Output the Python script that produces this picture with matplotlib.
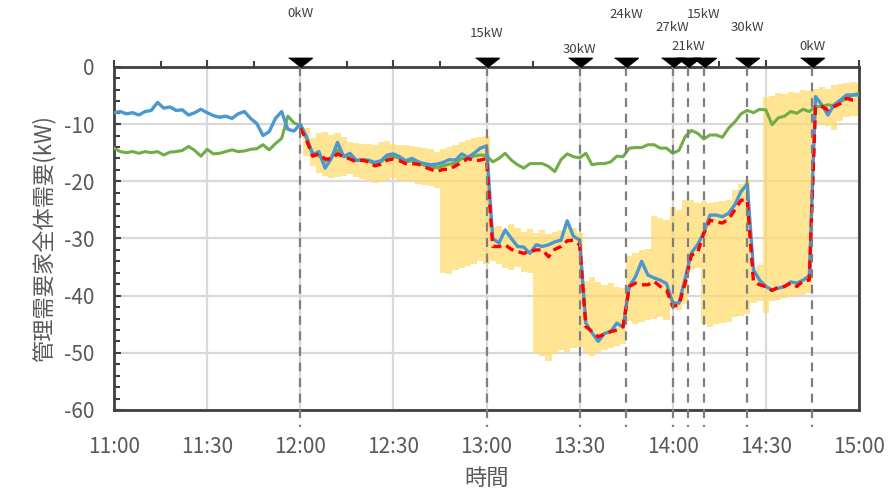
import numpy as np
import matplotlib
matplotlib.use("Agg")
import matplotlib.pyplot as plt
import matplotlib.transforms as mtransforms
from matplotlib.ticker import MultipleLocator

plt.rcParams['font.family'] = ['Noto Sans CJK JP', 'DejaVu Sans']

# ---- data (minutes after 11:00, 2-minute samples) ----
t_all = np.arange(0, 241, 2)      # 11:00 - 15:00
t_ctl = np.arange(60, 241, 2)     # 12:00 - 15:00 (control period)

demand_actual = [
    -8.0, -7.8, -8.2, -8.0, -8.4, -7.8, -7.6, -6.2, -7.2, -7.0, -7.6, -7.5, -8.4, -8.0, -7.4, -8.0,
    -8.5, -8.8, -8.6, -9.0, -8.2, -7.8, -9.0, -9.9, -12.0, -11.3, -9.0, -7.8, -10.9, -11.2, -10.0,
    -12.2, -15.4, -14.8, -17.7, -16.0, -13.2, -15.7, -15.1, -16.3, -16.3, -16.3, -16.7, -16.4, -15.4, -15.2,
    -15.7, -16.4, -16.0, -16.6, -16.9, -17.1, -17.0, -16.7, -16.2, -16.3, -15.2, -15.8, -15.1, -14.2, -13.8,
    -30.0, -30.8, -28.5, -30.0, -31.4, -31.5, -32.6, -31.1, -31.4, -31.1, -30.6, -30.3, -26.9, -29.6, -30.3,
    -44.8, -46.5, -48.0, -46.6, -46.3, -44.8, -45.5, -38.4, -36.7, -34.0, -36.4, -36.9, -37.3, -37.9, -41.3,
    -41.3, -37.0, -32.5, -31.1, -29.0, -25.9, -25.9, -26.2, -25.6, -24.1, -21.8, -20.5, -35.5, -37.3, -38.4,
    -39.0, -38.7, -38.4, -37.6, -37.8, -37.3, -36.5, -5.2, -6.6, -8.4, -6.6, -5.8, -4.9, -4.9, -4.9,
]

demand_baseline = [
    -14.2, -14.8, -15.0, -14.8, -15.1, -14.8, -15.0, -14.8, -15.4, -14.9, -14.8, -14.6, -13.9, -14.6, -15.6, -14.4,
    -15.2, -15.1, -14.8, -14.5, -14.8, -14.7, -14.4, -14.3, -13.6, -14.5, -13.4, -12.5, -8.6, -9.8, -10.2,
    -12.5, -15.0, -15.5, -16.5, -15.8, -14.5, -15.6, -15.8, -16.4, -16.2, -16.4, -17.0, -16.6, -15.8, -15.6,
    -16.0, -16.6, -16.4, -16.8, -17.2, -17.5, -17.6, -17.3, -17.0, -16.8, -16.0, -16.0, -15.6, -15.4, -15.5,
    -16.6, -16.0, -15.1, -16.3, -17.1, -17.7, -16.9, -16.9, -16.9, -17.4, -18.3, -16.2, -15.2, -15.7, -15.9,
    -15.1, -17.1, -16.9, -16.9, -16.6, -15.6, -15.7, -14.2, -14.1, -14.1, -13.6, -13.6, -14.2, -14.2, -15.1,
    -14.6, -12.2, -11.1, -11.6, -12.6, -11.9, -11.9, -12.3, -10.7, -9.6, -8.2, -7.6, -8.0, -7.4, -7.5,
    -10.1, -8.9, -8.6, -7.8, -8.1, -7.4, -7.8, -6.9, -6.9, -6.6, -6.8, -6.1, -5.5, -4.9, -4.6,
]

demand_target = [
    -10.7,
    -12.8, -15.6, -15.2, -16.1, -16.1, -15.2, -15.7, -16.1, -16.6, -16.3, -16.6, -17.3, -17.0, -16.3, -16.1,
    -16.4, -16.9, -16.9, -17.0, -17.5, -17.9, -18.3, -17.9, -17.9, -17.3, -16.7, -16.0, -16.4, -16.3, -16.0,
    -31.4, -31.4, -31.1, -31.9, -32.3, -32.6, -32.3, -32.0, -32.0, -33.2, -31.9, -31.4, -30.4, -30.3, -31.1,
    -45.4, -46.3, -47.2, -46.7, -46.3, -46.0, -45.4, -38.4, -37.8, -38.1, -38.1, -37.5, -38.4, -39.0, -41.9,
    -41.6, -37.8, -32.9, -32.5, -29.1, -26.8, -27.1, -27.3, -26.6, -25.0, -23.3, -23.3, -37.5, -38.1, -38.4,
    -39.1, -38.5, -38.4, -37.8, -38.4, -37.4, -37.3, -6.9, -6.9, -7.5, -6.9, -6.4, -5.5, -5.8, -5.8,
]

range_upper = [
    -10.0,
    -10.7, -12.5, -11.5, -11.3, -11.9, -11.5, -12.2, -13.1, -13.3, -13.4, -13.4, -13.6, -13.2, -13.0, -13.4,
    -13.6, -13.6, -13.9, -14.0, -14.2, -14.4, -14.8, -14.4, -14.0, -13.6, -13.2, -12.8, -12.5, -12.2, -12.0,
    -28.0, -27.8, -28.6, -27.4, -28.2, -28.8, -28.4, -29.0, -28.6, -29.2, -28.8, -28.6, -27.6, -28.2, -29.0,
    -37.5, -36.8, -37.6, -38.2, -37.8, -38.4, -38.6, -33.0, -32.6, -32.0, -31.8, -26.0, -26.4, -26.8, -24.5,
    -25.0, -23.3, -23.2, -23.8, -23.5, -23.8, -23.6, -23.4, -23.2, -21.5, -20.5, -19.8, -35.0, -34.6, -5.2,
    -5.0, -4.6, -4.8, -4.3, -4.5, -4.0, -4.2, -3.8, -3.5, -3.8, -3.2, -3.0, -2.8, -2.6, -2.8,
]

range_lower = [
    -11.5,
    -15.5, -17.4, -18.6, -19.0, -19.5, -19.2, -19.0, -18.8, -19.2, -19.6, -19.8, -20.3, -20.1, -19.8, -19.5,
    -19.8, -20.0, -20.0, -20.4, -20.6, -20.8, -21.2, -36.0, -36.2, -35.6, -35.2, -34.8, -34.4, -34.0, -34.5,
    -34.0, -34.5, -35.2, -35.5, -35.0, -35.8, -36.0, -50.0, -50.5, -51.5, -50.2, -49.5, -49.8, -49.2, -49.0,
    -50.0, -50.5, -49.8, -49.5, -49.2, -48.8, -48.5, -44.5, -45.0, -44.6, -44.2, -44.0, -43.8, -44.2, -42.0,
    -42.5, -41.5, -35.5, -35.2, -45.0, -45.4, -45.0, -44.8, -44.6, -43.8, -43.5, -43.2, -41.2, -41.0, -43.0,
    -41.0, -40.8, -40.4, -40.2, -40.0, -39.8, -39.6, -9.8, -10.2, -10.4, -11.0, -9.5, -8.8, -8.6, -8.6,
]

# control commands: time (minutes after 11:00) and requested amount
command_times = [60, 120, 150, 165, 180, 185, 190, 204, 225]
command_labels = ['0kW', '15kW', '30kW', '24kW', '27kW', '21kW', '15kW', '30kW', '0kW']
label_levels = [1.155, 1.099, 1.052, 1.152, 1.114, 1.061, 1.152, 1.114, 1.061]

x_tick_pos = [0, 30, 60, 90, 120, 150, 180, 210, 240]
x_tick_labels = ['11:00', '11:30', '12:00', '12:30', '13:00', '13:30', '14:00', '14:30', '15:00']
y_ticks = [0, -10, -20, -30, -40, -50, -60]

# ---- figure ----
fig = plt.figure(figsize=(8.93, 4.91), dpi=100)
ax = fig.add_axes([0.1277, 0.165, 0.8342, 0.6986])

text_gray = '#595959'
spine_color = '#404040'

ax.fill_between(t_ctl, range_lower, range_upper, step='mid',
                color='#FFD966', alpha=0.7, linewidth=0, zorder=2)
ax.plot(t_all, demand_baseline, color='#70AD47', lw=2.2, zorder=3)
ax.plot(t_all, demand_actual, color='#4A98CF', lw=2.4, zorder=4)
ax.plot(t_ctl, demand_target, color='#FF0000', lw=2.4, dashes=(2.6, 1.6), zorder=5)

ax.set_xlim(0, 240)
ax.set_ylim(-60, 0)

# command markers
tri = [(-1, 0.78), (1, 0.78), (0, 0)]
blend = mtransforms.blended_transform_factory(ax.transData, ax.transAxes)
for tc, lab, lv in zip(command_times, command_labels, label_levels):
    ax.plot([tc, tc], [0, -63], color='#7F7F7F', lw=1.6, dashes=(4, 3),
            clip_on=False, zorder=6)
    ax.plot([tc], [0], marker=tri, markersize=17, color='black',
            clip_on=False, zorder=7)
    ax.text(tc, lv, lab, transform=blend, ha='center', va='center',
            fontsize=9.5, color='#404040')

# grid / ticks
ax.set_xticks(x_tick_pos)
ax.set_xticklabels(x_tick_labels)
ax.set_yticks(y_ticks)
ax.set_yticklabels([str(v) for v in y_ticks])
ax.xaxis.set_minor_locator(MultipleLocator(15))
ax.yaxis.set_minor_locator(MultipleLocator(2))
ax.grid(True, which='major', color='#D9D9D9', lw=1.6, zorder=0)
ax.set_axisbelow(True)

ax.tick_params(axis='x', which='both', bottom=False, top=True, labelbottom=True,
               direction='out', color=spine_color, width=1.5, labelsize=15,
               labelcolor=text_gray, pad=14)
ax.tick_params(axis='x', which='major', length=5)
ax.tick_params(axis='x', which='minor', length=4)
ax.tick_params(axis='y', which='both', left=True, right=False, direction='in',
               color=spine_color, width=1.5, labelsize=15, labelcolor=text_gray, pad=14)
ax.tick_params(axis='y', which='major', length=5)
ax.tick_params(axis='y', which='minor', length=4)

for s in ax.spines.values():
    s.set_color(spine_color)
    s.set_linewidth(2)

ax.set_xlabel('時間', fontsize=16, color=text_gray, labelpad=6)
ax.set_ylabel('管理需要家全体需要(kW)', fontsize=16, color=text_gray, labelpad=6)

fig.savefig('out.png', dpi=100)
